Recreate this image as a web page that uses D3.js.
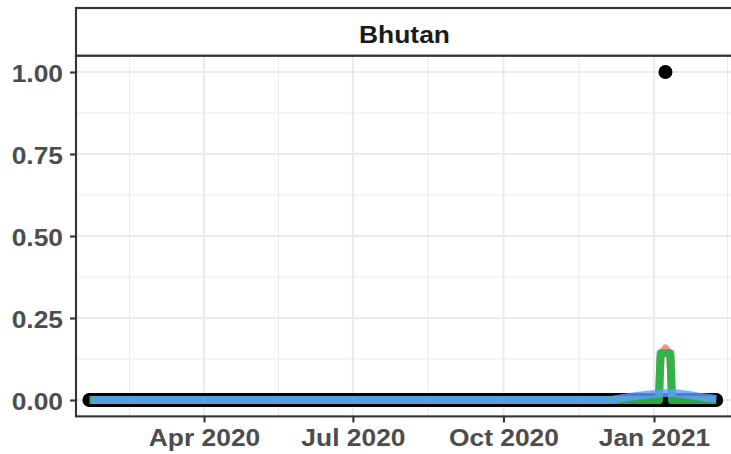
<!DOCTYPE html>
<html>
<head>
<meta charset="utf-8">
<script src="https://cdn.jsdelivr.net/npm/d3@7"></script>
<style>
  body { margin: 0; background: #fff; }
  svg { display: block; }
  text { font-family: "Liberation Sans", Arial, Helvetica, sans-serif; font-weight: bold; }
</style>
</head>
<body>
<svg id="chart" width="731" height="454"></svg>
<script>
// ---- data ----
const facetTitle = "Bhutan";
const firstDay = "2020-01-22";

// daily counts, one row per calendar month (Jan 2020 starts on the 22nd, Feb 2021 ends on the 8th)
const dailyCounts = [
  /* 2020-01 */ 0,0,0,0,0,0,0,0,0,0,
  /* 2020-02 */ 0,0,0,0,0,0,0,0,0,0, 0,0,0,0,0,0,0,0,0,0, 0,0,0,0,0,0,0,0,0,
  /* 2020-03 */ 0,0,0,0,0,0,0,0,0,0, 0,0,0,0,0,0,0,0,0,0, 0,0,0,0,0,0,0,0,0,0, 0,
  /* 2020-04 */ 0,0,0,0,0,0,0,0,0,0, 0,0,0,0,0,0,0,0,0,0, 0,0,0,0,0,0,0,0,0,0,
  /* 2020-05 */ 0,0,0,0,0,0,0,0,0,0, 0,0,0,0,0,0,0,0,0,0, 0,0,0,0,0,0,0,0,0,0, 0,
  /* 2020-06 */ 0,0,0,0,0,0,0,0,0,0, 0,0,0,0,0,0,0,0,0,0, 0,0,0,0,0,0,0,0,0,0,
  /* 2020-07 */ 0,0,0,0,0,0,0,0,0,0, 0,0,0,0,0,0,0,0,0,0, 0,0,0,0,0,0,0,0,0,0, 0,
  /* 2020-08 */ 0,0,0,0,0,0,0,0,0,0, 0,0,0,0,0,0,0,0,0,0, 0,0,0,0,0,0,0,0,0,0, 0,
  /* 2020-09 */ 0,0,0,0,0,0,0,0,0,0, 0,0,0,0,0,0,0,0,0,0, 0,0,0,0,0,0,0,0,0,0,
  /* 2020-10 */ 0,0,0,0,0,0,0,0,0,0, 0,0,0,0,0,0,0,0,0,0, 0,0,0,0,0,0,0,0,0,0, 0,
  /* 2020-11 */ 0,0,0,0,0,0,0,0,0,0, 0,0,0,0,0,0,0,0,0,0, 0,0,0,0,0,0,0,0,0,0,
  /* 2020-12 */ 0,0,0,0,0,0,0,0,0,0, 0,0,0,0,0,0,0,0,0,0, 0,0,0,0,0,0,0,0,0,0, 0,
  /* 2021-01 */ 0,0,0,0,0,0,0,1,0,0, 0,0,0,0,0,0,0,0,0,0, 0,0,0,0,0,0,0,0,0,0, 0,
  /* 2021-02 */ 0,0,0,0,0,0,0,0
];

// reported average (salmon line), listed at the days where it changes
const reportedAvg = [
  ["2020-01-22", 0], ["2021-01-04", 0], ["2021-01-05", 0.13], ["2021-01-06", 0.143],
  ["2021-01-07", 0.15], ["2021-01-08", 0.157], ["2021-01-09", 0.15], ["2021-01-10", 0.143],
  ["2021-01-11", 0.13], ["2021-01-12", 0], ["2021-02-08", 0]
];

// smoothed trend (blue line)
const smoothTrend = [
  ["2020-01-23", 0], ["2020-12-04", 0], ["2020-12-14", 0.007], ["2020-12-24", 0.014],
  ["2021-01-03", 0.019], ["2021-01-10", 0.021], ["2021-01-20", 0.017], ["2021-01-30", 0.009],
  ["2021-02-08", 0.003]
];

const xBreaks = ["2020-01-01", "2020-04-01", "2020-07-01", "2020-10-01", "2021-01-01", "2021-04-01"];
const xTickDates = ["2020-04-01", "2020-07-01", "2020-10-01", "2021-01-01"];
const xTickLabels = ["Apr 2020", "Jul 2020", "Oct 2020", "Jan 2021"];
const yTicks = [0, 0.25, 0.5, 0.75, 1];
const yTickLabels = ["0.00", "0.25", "0.50", "0.75", "1.00"];

const palette = { reported: "#F8766D", rolling: "#00BA38", trend: "#619CFF" };

// ---- layout ----
const panel = { left: 76, right: 733, top: 55.6, bottom: 416.4 };
const strip = { top: 8, bottom: 55.6 };
const textStretch = 1.1;   // bold labels are set slightly wide

const parse = d3.utcParse("%Y-%m-%d");

const x = d3.scaleUtc()
  .domain([parse("2020-04-01"), parse("2021-01-01")])
  .range([204, 654]);
const y = d3.scaleLinear()
  .domain([-0.05, 1.05])
  .range([panel.bottom, panel.top]);

const start = parse(firstDay);
const days = dailyCounts.map((v, i) => ({ date: d3.utcDay.offset(start, i), value: v }));

// centred 7-day rolling mean (partial windows at the ends)
const rolling = days.map((d, i) => {
  const win = days.slice(Math.max(0, i - 3), Math.min(days.length, i + 4));
  return { date: d.date, value: d3.mean(win, w => w.value) };
});
const reported = reportedAvg.map(([d, v]) => ({ date: parse(d), value: v }));
const trend = smoothTrend.map(([d, v]) => ({ date: parse(d), value: v }));

const svg = d3.select("#chart");

svg.append("defs").append("clipPath").attr("id", "panel-clip")
  .append("rect")
  .attr("x", panel.left).attr("y", panel.top)
  .attr("width", panel.right - panel.left).attr("height", panel.bottom - panel.top);

// panel background
svg.append("rect")
  .attr("x", panel.left).attr("y", panel.top)
  .attr("width", panel.right - panel.left).attr("height", panel.bottom - panel.top)
  .attr("fill", "#fff");

const grid = svg.append("g").attr("clip-path", "url(#panel-clip)");

// minor grid
const xBreakPos = xBreaks.map(d => x(parse(d)));
const xMinor = d3.pairs(xBreakPos).map(([a, b]) => (a + b) / 2);
const yMinor = d3.pairs([-0.25, ...yTicks, 1.25]).map(([a, b]) => (a + b) / 2);

grid.selectAll(".vminor").data(xMinor).join("line")
  .attr("x1", d => d).attr("x2", d => d)
  .attr("y1", panel.top).attr("y2", panel.bottom)
  .attr("stroke", "#ebebeb").attr("stroke-width", 1.1);
grid.selectAll(".hminor").data(yMinor).join("line")
  .attr("y1", d => y(d)).attr("y2", d => y(d))
  .attr("x1", panel.left).attr("x2", panel.right)
  .attr("stroke", "#ebebeb").attr("stroke-width", 1.1);

// major grid
grid.selectAll(".vmajor").data(xBreakPos).join("line")
  .attr("x1", d => d).attr("x2", d => d)
  .attr("y1", panel.top).attr("y2", panel.bottom)
  .attr("stroke", "#ebebeb").attr("stroke-width", 2.1);
grid.selectAll(".hmajor").data(yTicks).join("line")
  .attr("y1", d => y(d)).attr("y2", d => y(d))
  .attr("x1", panel.left).attr("x2", panel.right)
  .attr("stroke", "#ebebeb").attr("stroke-width", 2.1);

// marks
const marks = svg.append("g").attr("clip-path", "url(#panel-clip)");

marks.selectAll("circle").data(days).join("circle")
  .attr("cx", d => x(d.date)).attr("cy", d => y(d.value))
  .attr("r", 7).attr("fill", "#000");

const line = d3.line().x(d => x(d.date)).y(d => y(d.value));

function drawLine(data, color, curve) {
  marks.append("path")
    .datum(data)
    .attr("d", line.curve(curve))
    .attr("fill", "none")
    .attr("stroke", color)
    .attr("stroke-opacity", 0.8)
    .attr("stroke-width", 8)
    .attr("stroke-linejoin", "round")
    .attr("stroke-linecap", "butt");
}
drawLine(reported, palette.reported, d3.curveLinear);
drawLine(rolling, palette.rolling, d3.curveLinear);
drawLine(trend, palette.trend, d3.curveMonotoneX);

// panel border
svg.append("rect")
  .attr("x", panel.left).attr("y", panel.top)
  .attr("width", panel.right - panel.left).attr("height", panel.bottom - panel.top)
  .attr("fill", "none").attr("stroke", "#333").attr("stroke-width", 2.1);

// facet strip
svg.append("rect")
  .attr("x", panel.left).attr("y", strip.top)
  .attr("width", panel.right - panel.left).attr("height", strip.bottom - strip.top)
  .attr("fill", "#fff").attr("stroke", "#333").attr("stroke-width", 2.1);
const stripX = (panel.left + panel.right) / 2;
svg.append("text")
  .attr("x", 0).attr("y", 0)
  .attr("transform", `translate(${stripX},42.6) scale(${textStretch},1)`)
  .attr("text-anchor", "middle")
  .attr("font-size", 24).attr("fill", "#1a1a1a")
  .text(facetTitle);

// axes
const xAxis = d3.axisBottom(x)
  .tickValues(xTickDates.map(parse))
  .tickFormat((d, i) => xTickLabels[i])
  .tickSize(6).tickPadding(6);
const gx = svg.append("g").attr("transform", `translate(0,${panel.bottom})`).call(xAxis);
gx.select(".domain").remove();
gx.selectAll(".tick line").attr("stroke", "#333").attr("stroke-width", 2.1);
gx.selectAll(".tick text")
  .attr("font-size", 24).attr("fill", "#4d4d4d")
  .attr("dy", null).attr("y", 29.8)
  .attr("transform", `scale(${textStretch},1)`);
gx.attr("font-family", null).attr("font-size", null);

const yAxis = d3.axisLeft(y)
  .tickValues(yTicks)
  .tickFormat((d, i) => yTickLabels[i])
  .tickSize(6).tickPadding(7);
const gy = svg.append("g").attr("transform", `translate(${panel.left},0)`).call(yAxis);
gy.select(".domain").remove();
gy.selectAll(".tick line").attr("stroke", "#333").attr("stroke-width", 2.1);
gy.selectAll(".tick text")
  .attr("font-size", 24).attr("fill", "#4d4d4d")
  .attr("dy", "0.38em")
  .attr("transform", `translate(-13,0) scale(${textStretch},1) translate(13,0)`);
gy.attr("font-family", null).attr("font-size", null);
</script>
</body>
</html>
